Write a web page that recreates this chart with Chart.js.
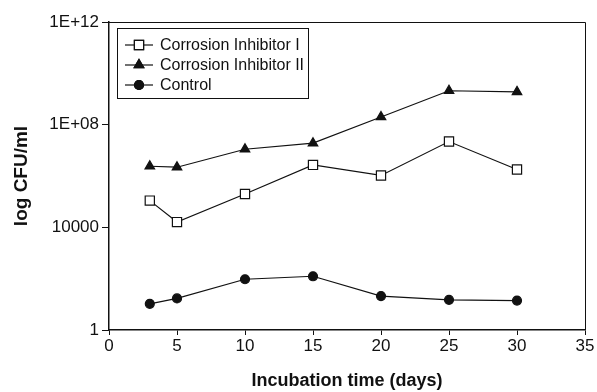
<!DOCTYPE html>
<html>
<head>
<meta charset="utf-8">
<script src="https://cdn.jsdelivr.net/npm/chart.js@4/dist/chart.umd.min.js"></script>
<style>
  html, body { margin: 0; padding: 0; background: #fff; }
  #wrap { width: 597px; height: 392px; }
</style>
</head>
<body>
<div id="wrap"><canvas id="chart" width="597" height="392"></canvas></div>
<script>
// incubation days
const days = [3, 5, 10, 15, 20, 25, 30];

// CFU/ml
const inhibitorI = [1.1e5, 1.6e4, 2.0e5, 2.7e6, 1.05e6, 2.2e7, 1.8e6];
const inhibitorII = [2.4e6, 2.2e6, 1.1e7, 1.9e7, 2.0e8, 2.1e9, 1.9e9];
const control = [10.5, 17, 95, 124, 21, 15, 14];

const seriesNames = ['Corrosion Inhibitor I', 'Corrosion Inhibitor II', 'Control'];
const yTicks = [1, 1e4, 1e8, 1e12];
const yTickLabels = ['1', '10000', '1E+08', '1E+12'];

const FONT = '"Liberation Sans", Arial, sans-serif';
const INK = '#111';

const toPoints = vals => vals.map((v, i) => ({ x: days[i], y: v }));

function series(label, vals, style, radius, fill) {
    return {
        label,
        data: toPoints(vals),
        borderColor: INK,
        borderWidth: 1.2,
        pointStyle: style,
        pointRadius: radius,
        pointHoverRadius: radius,
        pointBackgroundColor: fill,
        pointBorderColor: INK,
        pointBorderWidth: 1.2,
        tension: 0
    };
}

// frame on top/right sides + boxed legend inside plot
const framePlugin = {
    id: 'frame',
    afterDraw(chart) {
        const { ctx, chartArea: a } = chart;
        ctx.save();
        ctx.strokeStyle = INK;
        ctx.lineWidth = 1;
        ctx.beginPath();
        ctx.moveTo(a.left, a.top + 0.5);
        ctx.lineTo(a.right + 0.5, a.top + 0.5);
        ctx.lineTo(a.right + 0.5, a.bottom);
        ctx.stroke();

        // legend
        const bx = 117.5, by = 28.5, bw = 191, bh = 70;
        ctx.fillStyle = '#fff';
        ctx.fillRect(bx, by, bw, bh);
        ctx.strokeRect(bx, by, bw, bh);
        ctx.font = '16px ' + FONT;
        ctx.textBaseline = 'middle';
        chart.data.datasets.forEach((ds, i) => {
            const y = 45 + i * 20;
            ctx.strokeStyle = INK;
            ctx.lineWidth = 1.2;
            ctx.beginPath();
            ctx.moveTo(125, y);
            ctx.lineTo(153, y);
            ctx.stroke();
            ctx.fillStyle = ds.pointBackgroundColor;
            Chart.helpers.drawPoint(ctx, {
                pointStyle: ds.pointStyle,
                radius: ds.pointRadius,
                borderWidth: 1.2,
                rotation: 0
            }, 139, y);
            ctx.fill();
            ctx.stroke();
            ctx.fillStyle = INK;
            ctx.fillText(ds.label, 160, y + 1);
        });
        ctx.restore();
    }
};

new Chart(document.getElementById('chart'), {
    type: 'line',
    data: {
        datasets: [
            series(seriesNames[0], inhibitorI, 'rect', 6.5, '#fff'),
            series(seriesNames[1], inhibitorII, 'triangle', 5.5, INK),
            series(seriesNames[2], control, 'circle', 4.5, INK)
        ]
    },
    options: {
        responsive: false,
        animation: false,
        layout: { padding: { top: 22, right: 12, bottom: 0, left: 0 } },
        plugins: {
            legend: { display: false },
            tooltip: { enabled: false }
        },
        scales: {
            x: {
                type: 'linear',
                min: 0,
                max: 35,
                ticks: { stepSize: 5, color: INK, font: { family: FONT, size: 17 }, padding: 1 },
                grid: { drawOnChartArea: false, tickLength: 5, color: INK },
                border: { color: INK, width: 1.5 },
                title: {
                    display: true,
                    text: 'Incubation time (days)',
                    color: INK,
                    font: { family: FONT, size: 18, weight: 'bold' },
                    padding: { top: 4, bottom: 0 }
                },
                afterFit: s => { s.height = 62; }
            },
            y: {
                type: 'logarithmic',
                min: 1,
                max: 1e12,
                afterBuildTicks: axis => { axis.ticks = yTicks.map(v => ({ value: v })); },
                ticks: {
                    color: INK,
                    font: { family: FONT, size: 17 },
                    padding: 3,
                    callback: v => yTickLabels[yTicks.indexOf(v)] ?? ''
                },
                grid: { drawOnChartArea: false, tickLength: 7, color: INK },
                border: { color: INK, width: 1.5 },
                title: {
                    display: true,
                    text: 'log CFU/ml',
                    color: INK,
                    font: { family: FONT, size: 19, weight: 'bold' },
                    padding: { top: 10, bottom: 4 }
                },
                afterFit: s => { s.width = 109; }
            }
        }
    },
    plugins: [framePlugin]
});
</script>
</body>
</html>
